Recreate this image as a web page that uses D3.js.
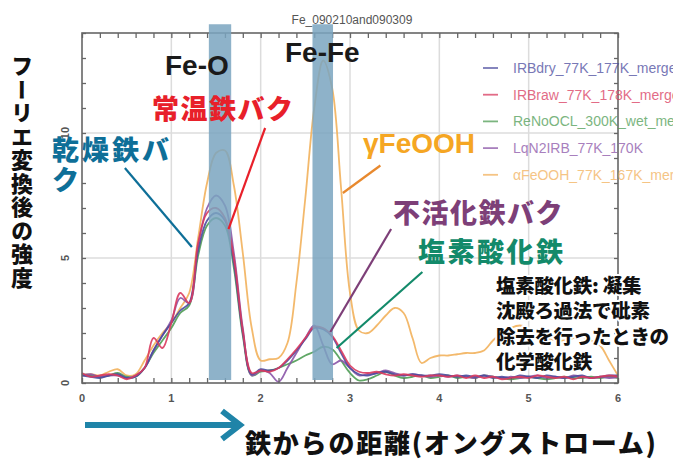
<!DOCTYPE html>
<html><head><meta charset="utf-8">
<script src="https://cdn.jsdelivr.net/npm/d3@7"></script>
<style>
html,body{margin:0;padding:0;background:#fff;}
svg{display:block;}
</style></head><body>
<svg id="chart" width="673" height="461"></svg>
<script>
// Fourier-transformed EXAFS magnitude vs. distance R (Å), five Fe samples
const rValues = d3.range(0, 61).map(i => +(i * 0.1).toFixed(1));

const irbDry = [0.30,0.25,0.20,0.30,0.35,0.20,0.25,0.60,1.30,1.90,
  2.40,2.90,3.20,5.30,6.50,6.80,6.50,4.80,2.00,0.35,
  0.55,0.50,0.60,0.90,1.30,1.75,2.20,2.15,1.85,1.20,
  0.60,0.35,0.30,0.40,0.45,0.35,0.30,0.35,0.30,0.30,
  0.35,0.30,0.25,0.30,0.25,0.30,0.20,0.25,0.20,0.30,
  0.25,0.20,0.30,0.25,0.20,0.25,0.30,0.20,0.25,0.30,
  0.30];
const irbRaw = [0.40,0.25,0.30,0.35,0.30,0.15,0.30,0.60,1.80,1.40,
  2.40,3.60,3.20,5.60,6.80,7.00,6.60,5.00,2.10,0.40,
  0.50,0.45,0.60,0.95,1.35,1.80,2.25,2.20,1.90,1.30,
  0.70,0.45,0.40,0.45,0.35,0.30,0.35,0.30,0.25,0.30,
  0.30,0.25,0.30,0.20,0.30,0.20,0.25,0.15,0.20,0.25,
  0.20,0.30,0.25,0.20,0.25,0.15,0.25,0.20,0.25,0.30,
  0.25];
const reNoOCL = [0.35,0.30,0.25,0.30,0.40,0.25,0.25,0.60,1.20,1.70,
  2.20,2.80,3.10,5.10,6.30,6.60,6.30,4.60,1.90,0.30,
  0.45,0.50,0.60,0.75,0.90,1.10,1.25,1.45,1.35,0.90,
  0.40,0.10,0.15,0.30,0.45,0.30,0.20,0.25,0.30,0.20,
  0.25,0.30,0.20,0.25,0.20,0.30,0.25,0.20,0.15,0.20,
  0.25,0.20,0.15,0.20,0.25,0.20,0.20,0.25,0.20,0.25,
  0.20];
const lqN2IRB = [0.30,0.35,0.25,0.30,0.30,0.20,0.30,0.60,1.30,1.90,
  2.50,3.40,3.20,5.50,7.00,7.50,7.10,5.20,2.20,0.30,
  0.50,0.40,0.05,0.60,1.20,1.80,2.30,1.50,0.75,0.90,
  0.60,0.30,0.35,0.40,0.50,0.40,0.30,0.35,0.30,0.25,
  0.30,0.25,0.30,0.25,0.20,0.30,0.25,0.20,0.25,0.20,
  0.25,0.30,0.20,0.25,0.20,0.30,0.25,0.20,0.25,0.20,
  0.25];
const aFeOOH = [0.30,0.35,0.30,0.45,0.55,0.30,0.35,0.90,1.50,2.00,
  2.40,3.00,3.60,5.80,8.00,9.20,9.30,7.90,5.20,2.20,
  0.90,0.95,1.00,1.60,4.00,7.40,11.00,12.90,11.80,7.80,
  3.60,2.10,2.00,2.30,2.70,3.00,2.80,1.80,0.80,1.00,
  1.10,1.10,1.15,1.20,1.20,1.30,1.70,2.00,2.20,2.30,
  2.20,2.00,1.80,1.70,1.70,1.80,1.85,1.70,1.50,0.90,
  0.30];

const seriesNames = ["IRBdry_77K_177K_merged", "IRBraw_77K_178K_merged",
  "ReNoOCL_300K_wet_merged", "LqN2IRB_77K_170K", "αFeOOH_77K_167K_merged"];
const seriesValues = [irbDry, irbRaw, reNoOCL, lqN2IRB, aFeOOH];
const seriesColors = ["#4b4b9e", "#d93a5e", "#4f9d55", "#8b55a8", "#f2b15c"];
const drawOrder = [4, 2, 3, 0, 1];

const xTickLabels = ["0", "1", "2", "3", "4", "5", "6"];
const yTickValues = [0, 5, 10];
const yTickLabels = ["0", "5", "10"];

// shaded shells: Fe-O and Fe-Fe distance ranges
const bandNames = ["Fe-O", "Fe-Fe"];
const bandStart = [1.42, 2.58];
const bandEnd = [1.67, 2.81];

const svg = d3.select("#chart");
const x = d3.scaleLinear().domain([0, 6]).range([82, 618]);
const y = d3.scaleLinear().domain([0, 14]).range([383, 33]);

const LATIN = "'Liberation Sans', Arial, sans-serif";
const CJK = "'Noto Sans CJK JP', 'Noto Sans', sans-serif";

// title
svg.append("text").attr("x", 352).attr("y", 24).attr("text-anchor", "middle")
  .attr("font-family", LATIN).attr("font-size", 12).attr("fill", "#555")
  .text("Fe_090210and090309");

// grid
const grid = svg.append("g").attr("stroke", "#dcdcdc").attr("stroke-width", 1.5);
grid.selectAll("line.v").data([1, 2, 3, 4, 5]).join("line").attr("class", "v")
  .attr("x1", d => x(d)).attr("x2", d => x(d)).attr("y1", y(14)).attr("y2", y(0));
grid.selectAll("line.h").data([5, 10]).join("line").attr("class", "h")
  .attr("x1", x(0)).attr("x2", x(6)).attr("y1", d => y(d)).attr("y2", d => y(d));

// curves
const line = d3.line().x((d, i) => x(rValues[i])).y(d => y(d)).curve(d3.curveCatmullRom.alpha(0.5));
const curves = svg.append("g").attr("fill", "none").attr("stroke-width", 1.8)
  .attr("stroke-linejoin", "round");
drawOrder.forEach(k => {
  curves.append("path").attr("d", line(seriesValues[k]))
    .attr("stroke", seriesColors[k]).attr("stroke-opacity", 0.9);
});

// axes: inward ticks on all four sides
const tickStyle = g => {
  g.select(".domain").remove();
  g.selectAll(".tick line").attr("stroke", "#666").attr("stroke-width", 1.3);
  g.selectAll(".tick text").remove();
};
const minorX = d3.range(0, 31).map(i => i * 0.2);
svg.append("g").attr("transform", `translate(0,${y(0)})`)
  .call(d3.axisBottom(x).tickValues(minorX).tickSize(-5).tickFormat("")).call(tickStyle);
svg.append("g").attr("transform", `translate(0,${y(14)})`)
  .call(d3.axisTop(x).tickValues(minorX).tickSize(-5).tickFormat("")).call(tickStyle);
const minorY = d3.range(0, 15);
svg.append("g").attr("transform", `translate(${x(0)},0)`)
  .call(d3.axisLeft(y).tickValues(minorY).tickSize(-4).tickFormat("")).call(tickStyle);
svg.append("g").attr("transform", `translate(${x(6)},0)`)
  .call(d3.axisRight(y).tickValues(minorY).tickSize(-4).tickFormat("")).call(tickStyle);

svg.append("rect").attr("x", x(0)).attr("y", y(14)).attr("width", x(6) - x(0))
  .attr("height", y(0) - y(14)).attr("fill", "none").attr("stroke", "#666").attr("stroke-width", 1.6);

// tick labels
svg.append("g").selectAll("text").data(xTickLabels).join("text")
  .attr("x", (d, i) => x(i)).attr("y", 402).attr("text-anchor", "middle")
  .attr("font-family", LATIN).attr("font-weight", "bold").attr("font-size", 11).attr("fill", "#555")
  .text(d => d);
svg.append("g").selectAll("text").data(yTickValues).join("text")
  .attr("transform", d => `translate(69,${y(d)}) rotate(-90)`).attr("text-anchor", "middle")
  .attr("font-family", LATIN).attr("font-weight", "bold").attr("font-size", 11).attr("fill", "#555")
  .text((d, i) => yTickLabels[i]);

// legend
const legend = svg.append("g");
seriesNames.forEach((name, i) => {
  const ly = 68 + i * 26.7;
  legend.append("line").attr("x1", 483).attr("x2", 498).attr("y1", ly).attr("y2", ly)
    .attr("stroke", seriesColors[i]).attr("stroke-width", 1.8).attr("opacity", 0.75);
  legend.append("text").attr("x", 513).attr("y", ly + 5)
    .attr("font-family", LATIN).attr("font-size", 14).attr("fill", seriesColors[i])
    .attr("opacity", 0.75).text(name);
});

// distance bands
svg.append("g").selectAll("rect").data(bandNames).join("rect")
  .attr("x", (d, i) => x(bandStart[i])).attr("width", (d, i) => x(bandEnd[i]) - x(bandStart[i]))
  .attr("y", y(14.35)).attr("height", y(0.12) - y(14.35))
  .attr("fill", "#7aa4c0").attr("opacity", 0.85);

// shell labels
svg.append("text").attr("x", 165).attr("y", 75).attr("font-family", LATIN)
  .attr("font-weight", "bold").attr("font-size", 28).attr("fill", "#1a1a1a").text("Fe-O");
svg.append("text").attr("x", 285).attr("y", 62).attr("font-family", LATIN)
  .attr("font-weight", "bold").attr("font-size", 28).attr("fill", "#1a1a1a").text("Fe-Fe");

// sample callouts with leader lines (endpoints given in data units)
const callouts = [
  { color: "#0e6f98", from: [0.48, 8.6], to: [1.23, 5.44] },
  { color: "#e8202a", from: [2.05, 10.2], to: [1.64, 6.16] },
  { color: "#e8892e", from: [3.34, 8.7], to: [2.92, 7.6] },
  { color: "#7d3f78", from: [3.46, 6.16], to: [2.78, 2.04] },
  { color: "#138a6a", from: [3.81, 4.44], to: [2.85, 1.4] }
];
svg.append("g").selectAll("line").data(callouts).join("line")
  .attr("x1", d => x(d.from[0])).attr("y1", d => y(d.from[1]))
  .attr("x2", d => x(d.to[0])).attr("y2", d => y(d.to[1]))
  .attr("stroke", d => d.color).attr("stroke-width", 2.2);

const cjk = (txt, px, py, size, color, spacing) =>
  svg.append("text").attr("x", px).attr("y", py).attr("dominant-baseline", "central")
    .attr("font-family", CJK).attr("font-weight", 900).attr("font-size", size)
    .attr("letter-spacing", spacing || 0).attr("fill", color).text(txt);

cjk("常温鉄バク", 152, 107, 27, "#e8202a", 1.5);
cjk("乾燥鉄バ", 52, 148, 27, "#0e6f98", 3);
cjk("ク", 52, 178, 27, "#0e6f98");
svg.append("text").attr("x", 363).attr("y", 153).attr("font-family", LATIN)
  .attr("font-weight", "bold").attr("font-size", 28).attr("fill", "#f5a623").text("γFeOOH");
cjk("不活化鉄バク", 393, 211, 27, "#7d3f78", 1.5);
cjk("塩素酸化鉄", 418, 250, 27, "#138a6a", 2.5);

// explanatory note, drawn with a white halo so it sits over the curve
const note = ["塩素酸化鉄: 凝集", "沈殿ろ過法で砒素", "除去を行ったときの", "化学酸化鉄"];
note.forEach((t, i) => cjk(t, 496, 284 + i * 25.5, 19.5, "#111", -0.3)
  .attr("stroke", "#fff").attr("stroke-width", 4).attr("paint-order", "stroke")
  .attr("stroke-linejoin", "round"));

// axis titles
svg.append("text").attr("x", 22).attr("y", 55)
  .style("writing-mode", "vertical-rl")
  .attr("font-family", CJK).attr("font-weight", 900).attr("font-size", 22)
  .attr("letter-spacing", 1.5).attr("fill", "#111").text("フーリエ変換後の強度");

cjk("鉄からの距離(オングストローム)", 245, 441, 26, "#111", 1.8);

// direction arrow
const arrow = svg.append("g").attr("stroke", "#1f84a8").attr("stroke-width", 6).attr("fill", "none");
arrow.append("line").attr("x1", 85).attr("x2", 238).attr("y1", 425).attr("y2", 425);
arrow.append("polyline").attr("points", "222,411 240,425 222,439").attr("stroke-linejoin", "miter");
</script>
</body></html>
